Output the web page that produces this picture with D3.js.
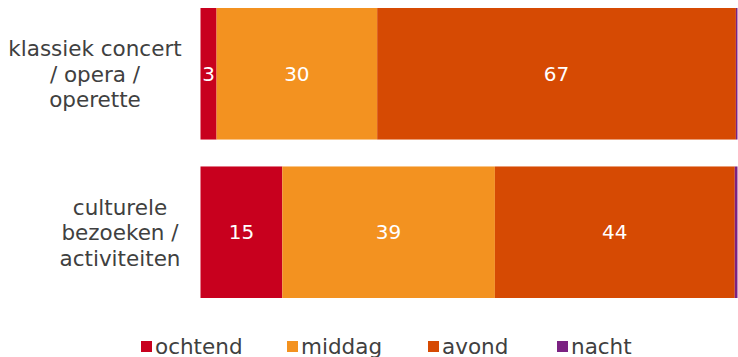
<!DOCTYPE html>
<html><head><meta charset="utf-8">
<script src="https://cdn.jsdelivr.net/npm/d3@7"></script>
<style>body{margin:0;background:#fff;} svg{display:block;}</style>
</head><body>
<svg id="c" width="738" height="357"></svg>
<script>
const categories = [["klassiek concert", "/ opera /", "operette"], ["culturele", "bezoeken /", "activiteiten"]];
const seriesNames = ["ochtend", "middag", "avond", "nacht"];
const colors = ["#C8001E", "#F39220", "#D64A03", "#7B2282"];
const ochtend = [3, 15];
const middag = [30, 39];
const avond = [67, 44];
const nacht = [0.3, 0.5];

const svg = d3.select("#c");
const font = "'DejaVu Sans', Verdana, sans-serif";
const seriesVals = [ochtend, middag, avond, nacht];
const rows = categories.map((c, i) => {
  const r = {key: i};
  seriesNames.forEach((s, j) => r[s] = seriesVals[j][i]);
  return r;
});
const stack = d3.stack().keys(seriesNames).offset(d3.stackOffsetExpand);
const stacked = stack(rows);

const x = d3.scaleLinear().domain([0, 1]).range([200.5, 737.5]);
const y = d3.scaleBand().domain(d3.range(categories.length)).range([8, 298]).paddingInner(0.17);

stacked.forEach((ser, j) => {
  svg.append("g").selectAll("rect").data(ser).join("rect")
    .attr("x", d => x(d[0])).attr("width", d => x(d[1]) - x(d[0]))
    .attr("y", (d, i) => y(i)).attr("height", y.bandwidth())
    .attr("fill", colors[j]);
  if (j < 3) {
    svg.append("g").selectAll("text").data(ser).join("text")
      .attr("x", d => (x(d[0]) + x(d[1])) / 2)
      .attr("y", (d, i) => y(i) + y.bandwidth() / 2)
      .attr("dy", "0.35em").attr("text-anchor", "middle")
      .attr("fill", "#fff").attr("font-family", font).attr("font-size", 20)
      .text((d, i) => seriesVals[j][i]);
  }
});

// category labels
const labelX = [95, 120];
categories.forEach((lines, i) => {
  const cy = y(i) + y.bandwidth() / 2 + 0.5;
  const lh = 25.5;
  const t = svg.append("text").attr("text-anchor", "middle").attr("font-family", font)
    .attr("font-size", 21.5).attr("fill", "#404040");
  lines.forEach((l, k) => {
    t.append("tspan").attr("x", labelX[i]).attr("y", cy + (k - (lines.length - 1) / 2) * lh).attr("dy", "0.35em").text(l);
  });
});

// legend
const legX = [141, 287, 428, 557];
seriesNames.forEach((s, j) => {
  svg.append("rect").attr("x", legX[j]).attr("y", 341).attr("width", 11).attr("height", 11).attr("fill", colors[j]);
  svg.append("text").attr("x", legX[j] + 14).attr("y", 346.5).attr("dy", "0.35em")
    .attr("font-family", font).attr("font-size", 21.5).attr("fill", "#404040").text(s);
});
</script>
</body></html>
